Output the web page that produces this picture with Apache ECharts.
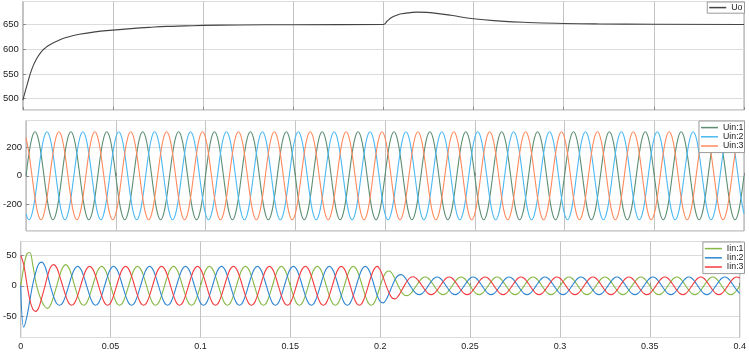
<!DOCTYPE html>
<html><head><meta charset="utf-8">
<script src="https://cdn.jsdelivr.net/npm/echarts@6/dist/echarts.min.js"></script>
<style>html,body{margin:0;padding:0;background:#fff}#c{width:749px;height:352px}</style>
</head><body><div id="c"></div>
<script>
// ---- data ----
const xTickLabels = ['0','0.05','0.1','0.15','0.2','0.25','0.3','0.35','0.4'];
const SAMPLE_STEP = 1 / 600; // seconds between samples of the phase waveforms (i = 0..240)

// Uo (DC output voltage), irregular sample times
const uoTime  = [0, 0.0025, 0.005, 0.0075, 0.01, 0.0125, 0.015, 0.02, 0.025, 0.03, 0.04, 0.05, 0.06, 0.07, 0.08, 0.09, 0.1, 0.12, 0.15, 0.2,
                 0.202, 0.2043, 0.207, 0.21, 0.215, 0.219, 0.224, 0.2283, 0.2375, 0.25, 0.265, 0.28, 0.3, 0.32, 0.35, 0.4];
const uoValue = [497, 530, 560, 580, 594, 603, 609.5, 618.5, 625, 629.5, 635.5, 639, 642, 644.5, 646.5, 647.5, 648.5, 649.5, 650, 650.5,
                 657, 664, 668.5, 672, 674.5, 675.5, 675, 673.5, 669, 662, 657.3, 654.5, 652.5, 651.5, 651, 650.5];

// Uin phases, one row per 20 ms cycle
const uin1 = [
 0,156,269,311,269,156,0,-156,-269,-311,-269,-156,
 0,156,269,311,269,156,0,-156,-269,-311,-269,-156,
 0,156,269,311,269,156,0,-156,-269,-311,-269,-156,
 0,156,269,311,269,156,0,-156,-269,-311,-269,-156,
 0,156,269,311,269,156,0,-156,-269,-311,-269,-156,
 0,156,269,311,269,156,0,-156,-269,-311,-269,-156,
 0,156,269,311,269,156,0,-156,-269,-311,-269,-156,
 0,156,269,311,269,156,0,-156,-269,-311,-269,-156,
 0,156,269,311,269,156,0,-156,-269,-311,-269,-156,
 0,156,269,311,269,156,0,-156,-269,-311,-269,-156,
 0,156,269,311,269,156,0,-156,-269,-311,-269,-156,
 0,156,269,311,269,156,0,-156,-269,-311,-269,-156,
 0,156,269,311,269,156,0,-156,-269,-311,-269,-156,
 0,156,269,311,269,156,0,-156,-269,-311,-269,-156,
 0,156,269,311,269,156,0,-156,-269,-311,-269,-156,
 0,156,269,311,269,156,0,-156,-269,-311,-269,-156,
 0,156,269,311,269,156,0,-156,-269,-311,-269,-156,
 0,156,269,311,269,156,0,-156,-269,-311,-269,-156,
 0,156,269,311,269,156,0,-156,-269,-311,-269,-156,
 0,156,269,311,269,156,0,-156,-269,-311,-269,-156,
 0];
const uin2 = [
 -269,-311,-269,-156,0,156,269,311,269,156,0,-156,
 -269,-311,-269,-156,0,156,269,311,269,156,0,-156,
 -269,-311,-269,-156,0,156,269,311,269,156,0,-156,
 -269,-311,-269,-156,0,156,269,311,269,156,0,-156,
 -269,-311,-269,-156,0,156,269,311,269,156,0,-156,
 -269,-311,-269,-156,0,156,269,311,269,156,0,-156,
 -269,-311,-269,-156,0,156,269,311,269,156,0,-156,
 -269,-311,-269,-156,0,156,269,311,269,156,0,-156,
 -269,-311,-269,-156,0,156,269,311,269,156,0,-156,
 -269,-311,-269,-156,0,156,269,311,269,156,0,-156,
 -269,-311,-269,-156,0,156,269,311,269,156,0,-156,
 -269,-311,-269,-156,0,156,269,311,269,156,0,-156,
 -269,-311,-269,-156,0,156,269,311,269,156,0,-156,
 -269,-311,-269,-156,0,156,269,311,269,156,0,-156,
 -269,-311,-269,-156,0,156,269,311,269,156,0,-156,
 -269,-311,-269,-156,0,156,269,311,269,156,0,-156,
 -269,-311,-269,-156,0,156,269,311,269,156,0,-156,
 -269,-311,-269,-156,0,156,269,311,269,156,0,-156,
 -269,-311,-269,-156,0,156,269,311,269,156,0,-156,
 -269,-311,-269,-156,0,156,269,311,269,156,0,-156,
 -269];
const uin3 = [
 269,156,0,-156,-269,-311,-269,-156,0,156,269,311,
 269,156,0,-156,-269,-311,-269,-156,0,156,269,311,
 269,156,0,-156,-269,-311,-269,-156,0,156,269,311,
 269,156,0,-156,-269,-311,-269,-156,0,156,269,311,
 269,156,0,-156,-269,-311,-269,-156,0,156,269,311,
 269,156,0,-156,-269,-311,-269,-156,0,156,269,311,
 269,156,0,-156,-269,-311,-269,-156,0,156,269,311,
 269,156,0,-156,-269,-311,-269,-156,0,156,269,311,
 269,156,0,-156,-269,-311,-269,-156,0,156,269,311,
 269,156,0,-156,-269,-311,-269,-156,0,156,269,311,
 269,156,0,-156,-269,-311,-269,-156,0,156,269,311,
 269,156,0,-156,-269,-311,-269,-156,0,156,269,311,
 269,156,0,-156,-269,-311,-269,-156,0,156,269,311,
 269,156,0,-156,-269,-311,-269,-156,0,156,269,311,
 269,156,0,-156,-269,-311,-269,-156,0,156,269,311,
 269,156,0,-156,-269,-311,-269,-156,0,156,269,311,
 269,156,0,-156,-269,-311,-269,-156,0,156,269,311,
 269,156,0,-156,-269,-311,-269,-156,0,156,269,311,
 269,156,0,-156,-269,-311,-269,-156,0,156,269,311,
 269,156,0,-156,-269,-311,-269,-156,0,156,269,311,
 269];

// Iin phases, one row per 20 ms cycle
const iin1 = [
 0,30,52,55,35,7,-12,-25,-34,-37,-31,-17,
 0,17,30,35,30,17,0,-16,-28,-32,-28,-16,
 0,16,28,32,28,16,0,-16,-28,-32,-28,-16,
 0,16,28,32,28,16,0,-16,-28,-32,-28,-16,
 0,16,28,32,28,16,0,-16,-28,-32,-28,-16,
 0,16,28,32,28,16,0,-16,-28,-32,-28,-16,
 0,16,28,32,28,16,0,-16,-28,-32,-28,-16,
 0,16,28,32,28,16,0,-16,-28,-32,-28,-16,
 0,16,28,32,28,16,0,-16,-28,-32,-28,-16,
 0,16,28,32,28,16,0,-16,-28,-32,-28,-16,
 0,14,22.5,24.5,20,11,0,-9,-15,-16,-13.5,-7.5,
 0,7,12.5,14.5,12.5,7,0,-7,-12.5,-14.5,-12.5,-7,
 0,7,12.5,14.5,12.5,7,0,-7,-12.5,-14.5,-12.5,-7,
 0,7,12.5,14.5,12.5,7,0,-7,-12.5,-14.5,-12.5,-7,
 0,7,12.5,14.5,12.5,7,0,-7,-12.5,-14.5,-12.5,-7,
 0,7,12.5,14.5,12.5,7,0,-7,-12.5,-14.5,-12.5,-7,
 0,7,12.5,14.5,12.5,7,0,-7,-12.5,-14.5,-12.5,-7,
 0,7,12.5,14.5,12.5,7,0,-7,-12.5,-14.5,-12.5,-7,
 0,7,12.5,14.5,12.5,7,0,-7,-12.5,-14.5,-12.5,-7,
 0,7,12.5,14.5,12.5,7,0,-7,-12.5,-14.5,-12.5,-7,
 0];
const iin2 = [
 0,-68,-52,-25,2,22,36,39,33,17,-2,-18,
 -29,-32,-28,-16,0,16,28,32,28,16,0,-16,
 -28,-32,-28,-16,0,16,28,32,28,16,0,-16,
 -28,-32,-28,-16,0,16,28,32,28,16,0,-16,
 -28,-32,-28,-16,0,16,28,32,28,16,0,-16,
 -28,-32,-28,-16,0,16,28,32,28,16,0,-16,
 -28,-32,-28,-16,0,16,28,32,28,16,0,-16,
 -28,-32,-28,-16,0,16,28,32,28,16,0,-16,
 -28,-32,-28,-16,0,16,28,32,28,16,0,-16,
 -28,-32,-28,-16,0,16,28,32,28,16,0,-16,
 -26,-28,-22.5,-12,0,11,17,18.5,15,8,0,-7.5,
 -12.5,-14.5,-12.5,-7,0,7,12.5,14.5,12.5,7,0,-7,
 -12.5,-14.5,-12.5,-7,0,7,12.5,14.5,12.5,7,0,-7,
 -12.5,-14.5,-12.5,-7,0,7,12.5,14.5,12.5,7,0,-7,
 -12.5,-14.5,-12.5,-7,0,7,12.5,14.5,12.5,7,0,-7,
 -12.5,-14.5,-12.5,-7,0,7,12.5,14.5,12.5,7,0,-7,
 -12.5,-14.5,-12.5,-7,0,7,12.5,14.5,12.5,7,0,-7,
 -12.5,-14.5,-12.5,-7,0,7,12.5,14.5,12.5,7,0,-7,
 -12.5,-14.5,-12.5,-7,0,7,12.5,14.5,12.5,7,0,-7,
 -12.5,-14.5,-12.5,-7,0,7,12.5,14.5,12.5,7,0,-7,
 -12.5];
const iin3 = [
 50,35,5,-22,-38,-42,-36,-20,-2,17,31,35,
 30,16,0,-16,-28,-32,-28,-16,0,16,28,32,
 28,16,0,-16,-28,-32,-28,-16,0,16,28,32,
 28,16,0,-16,-28,-32,-28,-16,0,16,28,32,
 28,16,0,-16,-28,-32,-28,-16,0,16,28,32,
 28,16,0,-16,-28,-32,-28,-16,0,16,28,32,
 28,16,0,-16,-28,-32,-28,-16,0,16,28,32,
 28,16,0,-16,-28,-32,-28,-16,0,16,28,32,
 28,16,0,-16,-28,-32,-28,-16,0,16,28,32,
 28,16,0,-16,-28,-32,-28,-16,0,16,28,32,
 26,14,0,-12,-20,-21.5,-17,-9,0,8,13.5,15,
 12.5,7,0,-7,-12.5,-14.5,-12.5,-7,0,7,12.5,14.5,
 12.5,7,0,-7,-12.5,-14.5,-12.5,-7,0,7,12.5,14.5,
 12.5,7,0,-7,-12.5,-14.5,-12.5,-7,0,7,12.5,14.5,
 12.5,7,0,-7,-12.5,-14.5,-12.5,-7,0,7,12.5,14.5,
 12.5,7,0,-7,-12.5,-14.5,-12.5,-7,0,7,12.5,14.5,
 12.5,7,0,-7,-12.5,-14.5,-12.5,-7,0,7,12.5,14.5,
 12.5,7,0,-7,-12.5,-14.5,-12.5,-7,0,7,12.5,14.5,
 12.5,7,0,-7,-12.5,-14.5,-12.5,-7,0,7,12.5,14.5,
 12.5,7,0,-7,-12.5,-14.5,-12.5,-7,0,7,12.5,14.5,
 12.5];

// ---- chart ----
const FONT = '"Liberation Sans", Arial, sans-serif';
const sampled = arr => arr.map((v, i) => [i * SAMPLE_STEP, v]);
const pairs = (ts, vs) => ts.map((t, i) => [t, vs[i]]);

const grids = [
  {left: 20.5, right: 5, top: 1.5, height: 108.5},
  {left: 20.5, right: 5, top: 120.5, height: 110.5},
  {left: 20.5, right: 5, top: 241.5, height: 96}
].map(g => Object.assign(g, {show: true, borderColor: '#a0a0a0', borderWidth: 1, backgroundColor: '#fff'}));

// [min, max, tick step, splitNumber]
const yRanges = [[477, 697, 50, 4], [-390, 390, 200, 4], [-85, 73, 50, 3]];

const xAxes = grids.map((g, i) => ({
  type: 'value', gridIndex: i, min: 0, max: 0.4, interval: 0.05,
  axisLine: {show: false},
  axisTick: {show: true, inside: true, length: 3, lineStyle: {color: '#888'}},
  splitLine: {show: true, lineStyle: {color: '#c4c4c4', width: 1}},
  axisLabel: {
    show: i === 2, color: '#222', fontSize: 9, fontFamily: FONT, margin: 5,
    formatter: v => xTickLabels[Math.round(v / 0.05)] || ''
  }
}));

const yAxes = yRanges.map((r, i) => ({
  type: 'value', gridIndex: i, min: r[0], max: r[1],
  splitNumber: r[3], minInterval: r[2], maxInterval: r[2],
  axisLine: {show: false},
  axisTick: {show: true, inside: true, length: 3, lineStyle: {color: '#888'}},
  splitLine: {show: true, lineStyle: {color: '#dcdcdc', width: 1.2}},
  axisLabel: {color: '#222', fontSize: 9.5, fontFamily: FONT, margin: 4, showMinLabel: false, showMaxLabel: false}
}));

const line = (name, data, color, gi, extra) => Object.assign({
  name, type: 'line', data, xAxisIndex: gi, yAxisIndex: gi,
  showSymbol: false, symbol: 'none', smooth: 0.4,
  lineStyle: {color, width: 1.1}, itemStyle: {color}, animation: false, silent: true
}, extra || {});

const legendBase = {
  orient: 'vertical', right: 4.5, icon: 'rect', itemWidth: 17, itemHeight: 1.5, itemGap: 0,
  backgroundColor: '#fff', borderColor: '#9a9a9a', borderWidth: 1, borderRadius: 0,
  padding: [2, 1, 2, 2],
  textStyle: {fontSize: 8.8, fontFamily: FONT, color: '#222', lineHeight: 9.2},
  selectedMode: false
};

const option = {
  backgroundColor: '#fff',
  animation: false,
  grid: grids,
  xAxis: xAxes,
  yAxis: yAxes,
  legend: [
    Object.assign({}, legendBase, {top: 2, data: ['Uo'], padding: [1, 2, 1, 2]}),
    Object.assign({}, legendBase, {top: 121, data: ['Uin:1', 'Uin:2', 'Uin:3']}),
    Object.assign({}, legendBase, {top: 242, data: ['Iin:1', 'Iin:2', 'Iin:3']})
  ],
  series: [
    line('Uo', pairs(uoTime, uoValue), '#444', 0, {smooth: 0.5, lineStyle: {color: '#444', width: 1.1}}),
    line('Uin:1', sampled(uin1), '#5c8f74', 1),
    line('Uin:2', sampled(uin2), '#4cb9f2', 1),
    line('Uin:3', sampled(uin3), '#ff8a5e', 1),
    line('Iin:1', sampled(iin1), '#86b845', 2),
    line('Iin:2', sampled(iin2), '#2e86d2', 2),
    line('Iin:3', sampled(iin3), '#f43a3e', 2)
  ]
};

const chart = echarts.init(document.getElementById('c'), null, {renderer: 'canvas', width: 749, height: 352});
chart.setOption(option);
</script>
</body></html>
